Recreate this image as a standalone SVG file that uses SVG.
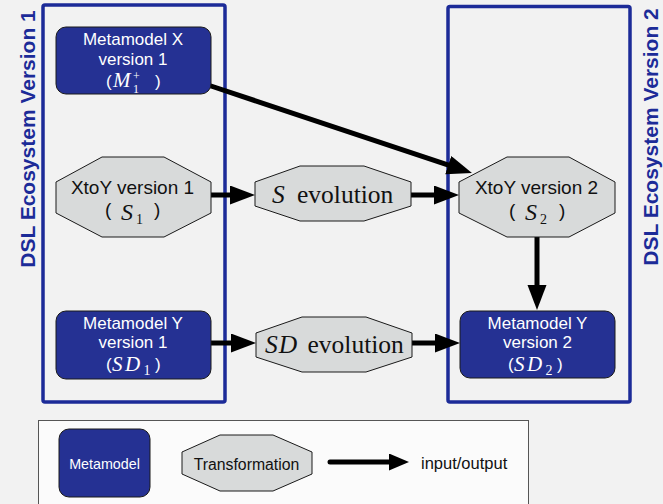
<svg xmlns="http://www.w3.org/2000/svg" width="663" height="504" viewBox="0 0 663 504">
<style>
.bg{fill:#f2f2f2}
.eco{fill:none;stroke:#1c2b98;stroke-width:3.5}
.ecol{font-family:"Liberation Sans",Arial,sans-serif;font-weight:bold;font-size:21px;fill:#1c2b98;text-anchor:middle}
.mm{fill:#253193;stroke:#1a1a1a;stroke-width:1}
.tr{fill:#d8dada;stroke:#1a1a1a;stroke-width:1}
.wt{font-family:"Liberation Sans",Arial,sans-serif;font-size:17px;fill:#ffffff;text-anchor:middle}
.bt{font-family:"Liberation Sans",Arial,sans-serif;font-size:19px;fill:#111;text-anchor:middle}
.ws{font-family:"Liberation Sans",Arial,sans-serif;font-size:17px;fill:#ffffff}
.bs{font-family:"Liberation Sans",Arial,sans-serif;font-size:19px;fill:#111}
.mi{font-family:"Liberation Serif","Times New Roman",serif;font-style:italic}
.mr{font-family:"Liberation Serif","Times New Roman",serif}
.w{fill:#ffffff}
.k{fill:#111}
.conn{stroke:#000;stroke-width:5;fill:none;stroke-linecap:round}
.lt{font-family:"Liberation Sans",Arial,sans-serif;fill:#111}
</style>
<defs>
<marker id="ah" markerUnits="userSpaceOnUse" markerWidth="26" markerHeight="20" refX="5" refY="9.5" orient="auto">
<path d="M0,0 L25,9.5 L0,19 Z" fill="#000"/>
</marker>
<marker id="ahs" markerUnits="userSpaceOnUse" markerWidth="22" markerHeight="18" refX="4" refY="8.5" orient="auto">
<path d="M0,0 L20,8.5 L0,17 Z" fill="#000"/>
</marker>
</defs>
<rect class="bg" x="0" y="0" width="663" height="504"/>

<g id="ecosystem1">
<rect class="eco" x="43" y="5" width="182" height="397" rx="2"/>
<text class="ecol" transform="translate(35,139) rotate(-90)">DSL Ecosystem Version 1</text>
</g>
<g id="ecosystem2">
<rect class="eco" x="448" y="6.5" width="182" height="395.5" rx="2"/>
<text class="ecol" transform="translate(658,137) rotate(-90)">DSL Ecosystem Version 2</text>
</g>

<g id="connectors">
<line class="conn" x1="211" y1="86" x2="453" y2="166.7" marker-end="url(#ah)"/>
<line class="conn" x1="211" y1="195" x2="235" y2="195" marker-end="url(#ah)"/>
<line class="conn" x1="411" y1="195" x2="439" y2="195" marker-end="url(#ah)"/>
<line class="conn" x1="211" y1="343" x2="236" y2="343" marker-end="url(#ah)"/>
<line class="conn" x1="412" y1="343" x2="440" y2="343" marker-end="url(#ah)"/>
<line class="conn" x1="537" y1="237" x2="537" y2="290" marker-end="url(#ah)"/>
</g>

<g id="metamodelX1">
<rect class="mm" x="56" y="27" width="155" height="67" rx="10"/>
<text class="wt" x="133" y="45">Metamodel X</text>
<text class="wt" x="133" y="65">version 1</text>
<text class="ws" x="106" y="87">(</text>
<text class="mi w" x="113" y="87" font-size="21">M</text>
<text class="mr w" x="133" y="80" font-size="12">+</text>
<text class="mr w" x="133" y="93" font-size="12">1</text>
<text class="ws" x="155" y="87">)</text>
</g>

<g id="xtoy1">
<polygon class="tr" points="102,157 164,157 211,182 211,213 164,237 102,237 56,213 56,182"/>
<text class="bt" x="132.5" y="194">XtoY version 1</text>
<text class="bs" x="105" y="216">(</text>
<text class="mi k" x="121" y="220" font-size="24">S</text>
<text class="mr k" x="136" y="224" font-size="14">1</text>
<text class="bs" x="154" y="216">)</text>
</g>

<g id="metamodelY1">
<rect class="mm" x="56" y="311" width="155" height="68" rx="10"/>
<text class="wt" x="133" y="329">Metamodel Y</text>
<text class="wt" x="133" y="348">version 1</text>
<text class="ws" x="106" y="370">(</text>
<text class="mi w" x="112" y="371" font-size="21" letter-spacing="2.5">SD</text>
<text class="mr w" x="143.5" y="375" font-size="14">1</text>
<text class="ws" x="155" y="370">)</text>
</g>

<g id="sevolution">
<polygon class="tr" points="300,166 364,166 411,182 411,206 364,221 300,221 255,206 255,182"/>
<text class="mi k" x="272" y="203" font-size="25.5">S</text>
<text class="mr k" x="297" y="203" font-size="25.5">evolution</text>
</g>

<g id="sdevolution">
<polygon class="tr" points="302,317 366,317 412,333 412,357 366,372 302,372 256,357 256,333"/>
<text class="mi k" x="265" y="353" font-size="25.5" letter-spacing="1">SD</text>
<text class="mr k" x="307.5" y="353" font-size="25.5">evolution</text>
</g>

<g id="xtoy2">
<polygon class="tr" points="507,157 569,157 615,182 615,213 569,237 507,237 459,213 459,182"/>
<text class="bt" x="536.5" y="194">XtoY version 2</text>
<text class="bs" x="509" y="217">(</text>
<text class="mi k" x="525" y="220" font-size="24">S</text>
<text class="mr k" x="540" y="224" font-size="14">2</text>
<text class="bs" x="559" y="217">)</text>
</g>

<g id="metamodelY2">
<rect class="mm" x="460" y="311" width="155" height="67" rx="10"/>
<text class="wt" x="537.5" y="329">Metamodel Y</text>
<text class="wt" x="537.5" y="348">version 2</text>
<text class="ws" x="508" y="370">(</text>
<text class="mi w" x="514" y="371" font-size="21" letter-spacing="2.5">SD</text>
<text class="mr w" x="545.5" y="375" font-size="14">2</text>
<text class="ws" x="557" y="370">)</text>
</g>

<g id="legend">
<rect x="38.5" y="420.5" width="490" height="95" fill="#fbfbfb" stroke="#555" stroke-width="1"/>
<rect class="mm" x="59" y="429" width="91" height="68" rx="10"/>
<text class="wt" x="104.5" y="469" style="font-size:14.3px">Metamodel</text>
<polygon class="tr" points="220,435 273,435 312,452 312,474 273,491 220,491 182,474 182,452"/>
<text class="lt" x="246.5" y="469.5" text-anchor="middle" font-size="15.8">Transformation</text>
<line class="conn" x1="330" y1="462" x2="393" y2="462" marker-end="url(#ahs)"/>
<text class="lt" x="421" y="469" font-size="16.5">input/output</text>
</g>
</svg>
